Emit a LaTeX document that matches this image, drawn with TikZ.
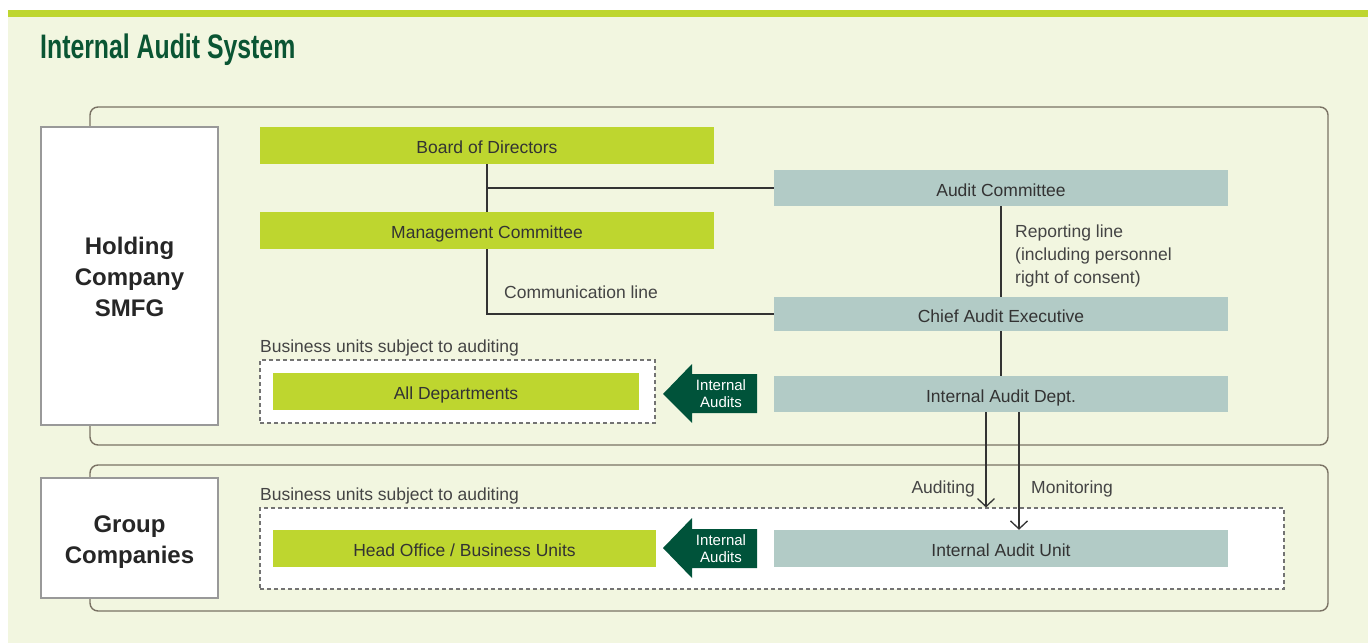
\documentclass[tikz,border=0pt]{standalone}
\usepackage{fontspec}
\setmainfont{Liberation Sans}
\newfontfamily\titlefont[FakeStretch=0.73]{Liberation Sans}
\usetikzlibrary{arrows.meta}
\definecolor{bgcream}{HTML}{F2F6E0}
\definecolor{limegreen}{HTML}{BED62F}
\definecolor{greyblue}{HTML}{B2CBC6}
\definecolor{darkgreen}{HTML}{00533A}
\definecolor{titlegreen}{HTML}{0A5533}
\definecolor{panelline}{HTML}{7A7264}
\definecolor{txt}{HTML}{333333}
\definecolor{lbl}{HTML}{444444}
\tikzset{
  boxfont/.style={font=\fontsize{17.5}{20}\selectfont, text=txt, text height=16pt, text depth=0pt},
  greenbox/.style={fill=limegreen, inner sep=0pt, boxfont},
  bluebox/.style={fill=greyblue, inner sep=0pt, boxfont, minimum width=454pt},
  panel/.style={draw=panelline, line width=1.4pt, rounded corners=8pt},
  entitybox/.style={draw=black!40, line width=1.2pt, fill=white},
  dashbox/.style={draw=black!55, line width=1.1pt, dash pattern=on 4pt off 3pt, fill=white, inner sep=0pt},
  conn/.style={draw=txt, line width=1.4pt},
  arr/.style={conn, -{Straight Barb[length=8pt,width=17pt,line width=1.3pt]}},
  lbltext/.style={font=\fontsize{17.5}{20}\selectfont, text=lbl, anchor=base west, inner sep=0pt},
  entitytext/.style={font=\fontsize{24}{28}\selectfont\bfseries, text=black!85, anchor=base, inner sep=0pt},
  blockarrow/.style={fill=darkgreen},
  arrowtext/.style={font=\fontsize{15}{16.5}\selectfont, text=white, align=center, inner sep=0pt}
}
\begin{document}
\begin{tikzpicture}[x=1pt,y=-1pt]
\useasboundingbox (0,0) rectangle (1368,643);
\fill[white] (0,0) rectangle (1368,643);
\fill[bgcream] (8,17) rectangle (1368,643);
\fill[limegreen] (8,10) rectangle (1368,17);
\node[anchor=base west, inner sep=0pt, text=titlegreen, font=\titlefont\fontsize{34}{38}\selectfont\bfseries] (title) at (40,58) {Internal Audit System};

% panels
\draw[panel] (90,107) rectangle (1328,445);
\draw[panel] (90,465) rectangle (1328,611);

% entity boxes
\draw[entitybox] (41,127) rectangle (218,425);
\node[entitytext] (h1) at (129.5,254) {Holding};
\node[entitytext] (h2) at (129.5,285) {Company};
\node[entitytext] (h3) at (129.5,316) {SMFG};
\draw[entitybox] (41,478) rectangle (218,598);
\node[entitytext] (g1) at (129.5,532) {Group};
\node[entitytext] (g2) at (129.5,563) {Companies};

% dashed boxes
\node[dashbox, minimum width=395pt, minimum height=63pt] (udash) at (457.5,391.5) {};
\node[dashbox, minimum width=1024pt, minimum height=81pt] (gdash) at (772,548.5) {};
\node[lbltext] (ulbl) at (260,352) {Business units subject to auditing};
\node[lbltext] (glbl) at (260,500) {Business units subject to auditing};

% green boxes
\node[greenbox, minimum width=454pt, minimum height=37pt] (bod) at (487,145.5) {Board of Directors};
\node[greenbox, minimum width=454pt, minimum height=37pt] (mc) at (487,230.5) {Management Committee};
\node[greenbox, minimum width=366pt, minimum height=37pt] (alld) at (456,391.5) {All Departments};
\node[greenbox, minimum width=383pt, minimum height=37pt] (hobu) at (464.5,548.5) {Head Office / Business Units};

% blue boxes
\node[bluebox, minimum height=36pt] (ac) at (1001,188) {Audit Committee};
\node[bluebox, minimum height=34pt] (cae) at (1001,314) {Chief Audit Executive};
\node[bluebox, minimum height=36pt] (iad) at (1001,394) {Internal Audit Dept.};
\node[bluebox, minimum height=37pt] (iau) at (1001,548.5) {Internal Audit Unit};

% connectors
\coordinate (j1) at (487,188);
\draw[conn] (bod.south) -- (mc.north);
\draw[conn] (j1) -- (ac.west);
\draw[conn] (mc.south) |- (cae.west);
\draw[conn] (ac.south) -- (cae.north);
\draw[conn] (cae.south) -- (iad.north);
\draw[arr] ([xshift=-15pt]iad.south) -- ([xshift=-15pt]iad.south |- gdash.north);
\draw[arr] ([xshift=18pt]iad.south) -- ([xshift=18pt]iad.south |- iau.north);

\node[lbltext] (cl) at (504,298) {Communication line};
\node[lbltext] (rl1) at (1015,237) {Reporting line};
\node[lbltext] (rl2) at (1015,260) {(including personnel};
\node[lbltext] (rl3) at (1015,283) {right of consent)};
\node[lbltext, anchor=base east] (aud) at (975,493) {Auditing};
\node[lbltext] (mon) at (1031,493) {Monitoring};

% block arrows
\fill[blockarrow] (663,394) -- (692,364) -- (692,374) -- (757,374) -- (757,413) -- (692,413) -- (692,423) -- cycle;
\node[arrowtext] (ia1) at (721,393.5) {Internal\\Audits};
\fill[blockarrow] (663,548) -- (692,518) -- (692,529) -- (757,529) -- (757,568) -- (692,568) -- (692,578) -- cycle;
\node[arrowtext] (ia2) at (721,548.5) {Internal\\Audits};
\end{tikzpicture}
\end{document}
